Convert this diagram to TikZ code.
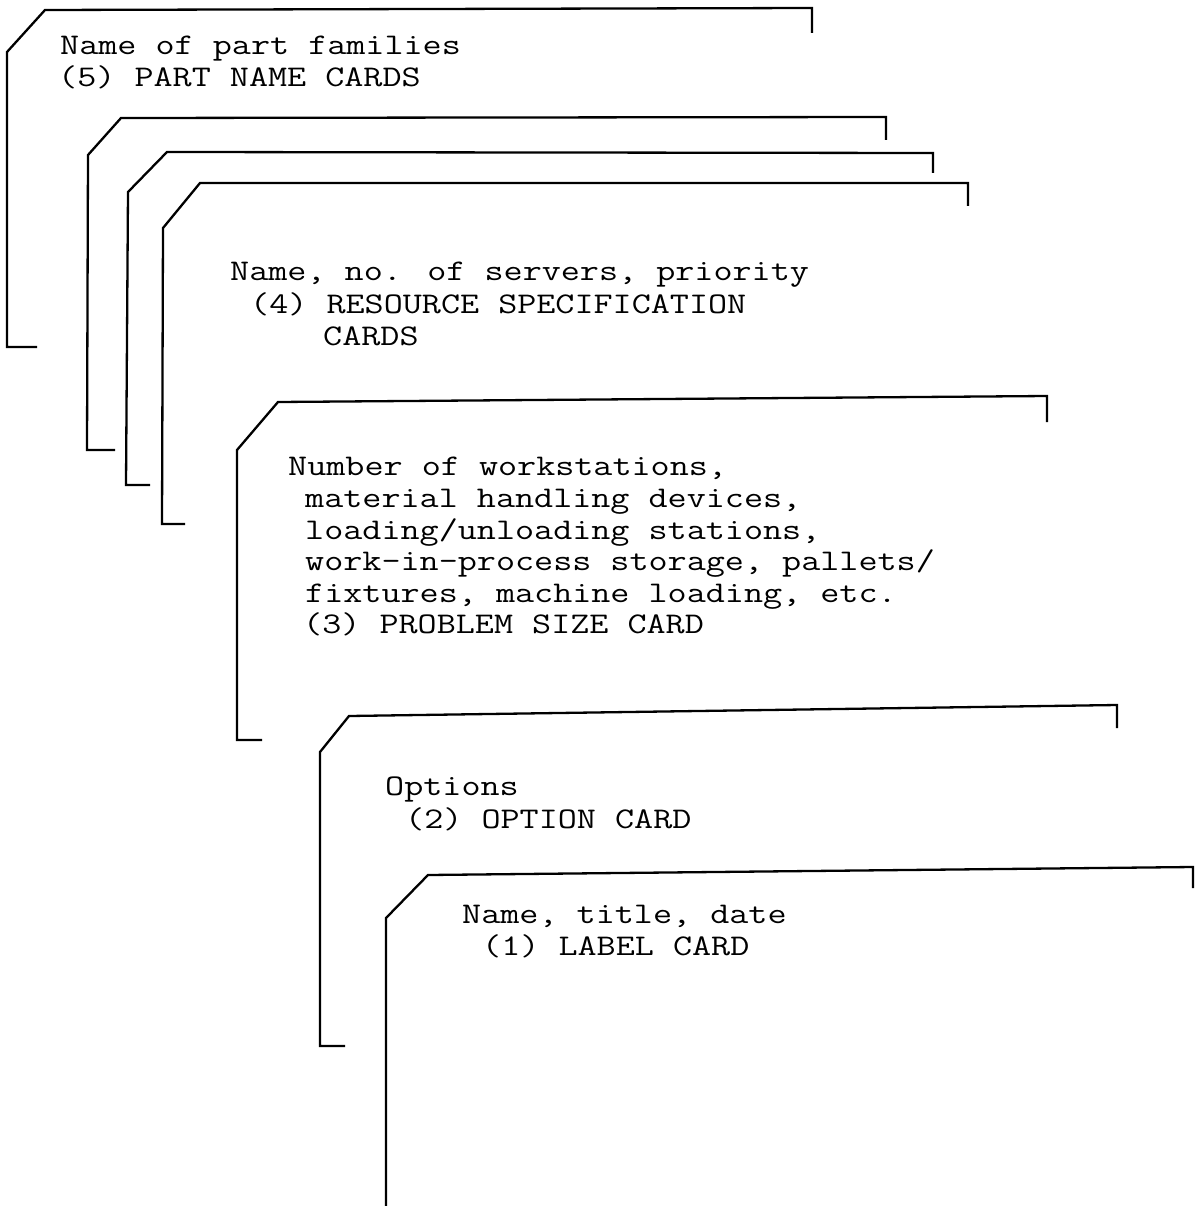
\documentclass[tikz,border=0pt]{standalone}
\usepackage{fontspec}
% typewriter lines: Latin Modern Mono, widened to the 19pt character pitch
\newcommand{\tw}[1]{\scalebox{1.235}[1]{#1}}
\begin{document}
\begin{tikzpicture}[x=1pt,y=-1pt,
  cardedge/.style={line width=2.3pt,line join=miter},
  cardtext/.style={anchor=base west,inner sep=0pt,font=\ttfamily\fontsize{30}{32}\selectfont}]
\useasboundingbox (0,0) rectangle (1196,1206);

% card outlines: right tick, top edge, clipped corner, left edge, bottom tick
\draw[cardedge] (812,33) -- (812,8) -- (45,10) -- (7,52) -- (7,347) -- (37,347);
\draw[cardedge] (886,140) -- (886,117) -- (121,118) -- (88,155) -- (87,450) -- (115,450);
\draw[cardedge] (933,173) -- (933,153) -- (167,152) -- (128,192) -- (126,485) -- (150,485);
\draw[cardedge] (968,206) -- (968,183) -- (200,183) -- (163,228) -- (162,524) -- (185,524);
\draw[cardedge] (1047,422) -- (1047,396) -- (278,402) -- (237,450) -- (237,740) -- (262,740);
\draw[cardedge] (1117,728) -- (1117,705) -- (349,716) -- (320,752) -- (320,1046) -- (345,1046);
\draw[cardedge] (1193,888) -- (1193,867) -- (428,875) -- (386,918) -- (386,1206);

% (5) part name cards
\node[cardtext] (t5a) at (60,55) {\tw{Name of part families}};
\node[cardtext] (t5b) at (58,87) {\tw{(5) PART NAME CARDS}};
% (4) resource specification cards
\node[cardtext] (t4a) at (230,280) {\tw{Name, no. of servers, priority}};
\node[cardtext] (t4b) at (250,313) {\tw{(4) RESOURCE SPECIFICATION}};
\node[cardtext] (t4c) at (323,345) {\tw{CARDS}};
% (3) problem size card
\node[cardtext] (t3a) at (288,475) {\tw{Number of workstations,}};
\node[cardtext] (t3b) at (305,507) {\tw{material handling devices,}};
\node[cardtext] (t3c) at (305,539) {\tw{loading/unloading stations,}};
\node[cardtext] (t3d) at (305,570) {\tw{work-in-process storage, pallets/}};
\node[cardtext] (t3e) at (305,602) {\tw{fixtures, machine loading, etc.}};
\node[cardtext] (t3f) at (303,633) {\tw{(3) PROBLEM SIZE CARD}};
% (2) option card
\node[cardtext] (t2a) at (385,795) {\tw{Options}};
\node[cardtext] (t2b) at (405,828) {\tw{(2) OPTION CARD}};
% (1) label card
\node[cardtext] (t1a) at (462,923) {\tw{Name, title, date}};
\node[cardtext] (t1b) at (482,955) {\tw{(1) LABEL CARD}};
\end{tikzpicture}
\end{document}
